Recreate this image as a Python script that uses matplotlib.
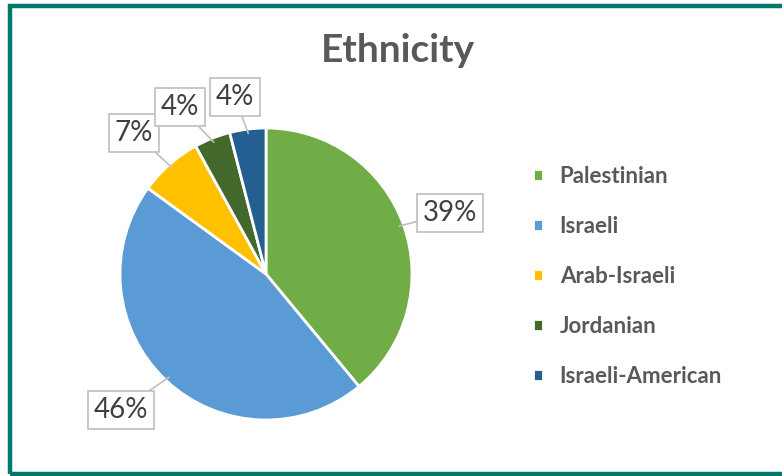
import matplotlib
matplotlib.use("Agg")
import matplotlib.pyplot as plt
import numpy as np
from matplotlib.patches import Rectangle

# data
groups = ["Palestinian", "Israeli", "Arab-Israeli", "Jordanian", "Israeli-American"]
shares = [39, 46, 7, 4, 4]
colors = ["#70AD47", "#5B9BD5", "#FFC000", "#43682B", "#255E91"]

# label box centres (pixel coords, y from top)
label_pos = [(450, 213), (121, 410), (134, 133), (180, 107), (235, 97)]

plt.rcParams['font.family'] = ['Lato', 'DejaVu Sans']

W, H = 782, 476
fig = plt.figure(figsize=(W / 100, H / 100), dpi=100)
ax = fig.add_axes([0, 0, 1, 1])

# teal frame (right side runs off the picture)
fig.patches.append(Rectangle((9.5 / W, 2 / H), 800 / W, (H - 8) / H,
                             transform=fig.transFigure, fill=False,
                             edgecolor="#00796B", linewidth=3.2))

cx, cy, r = 266, H - 274, 146
wedges, _ = ax.pie(shares, colors=colors, startangle=90, counterclock=False,
                   center=(cx, cy), radius=r, frame=True,
                   wedgeprops=dict(edgecolor="white", linewidth=2))
ax.set_xlim(0, W)
ax.set_ylim(0, H)
ax.set_aspect('equal')
ax.axis('off')

ax.text(398, H - 50, "Ethnicity", ha='center', va='center', fontsize=28,
        fontweight='bold', color="#595959")

for w, v, (lx, ly) in zip(wedges, shares, label_pos):
    ang = np.deg2rad((w.theta1 + w.theta2) / 2)
    px = cx + r * np.cos(ang) * 0.97
    py = cy + r * np.sin(ang) * 0.97
    ax.annotate(f"{v}%", xy=(px, py), xytext=(lx, H - ly),
                ha='center', va='center', fontsize=20, color="#404040",
                bbox=dict(boxstyle="square,pad=0.22", fc="white", ec="#BFBFBF", lw=1.2),
                arrowprops=dict(arrowstyle="-", color="#BFBFBF", lw=1.2,
                                shrinkA=0, shrinkB=0))

leg = ax.legend(wedges, groups, loc='upper left', bbox_to_anchor=(513 / W, 1 - 146 / H),
                bbox_transform=fig.transFigure, frameon=False,
                prop=dict(weight='bold', size=16), labelcolor="#595959",
                handlelength=0.45, handleheight=0.45, handletextpad=0.75,
                labelspacing=1.3)

fig.savefig("out.png", dpi=100, facecolor="white")
